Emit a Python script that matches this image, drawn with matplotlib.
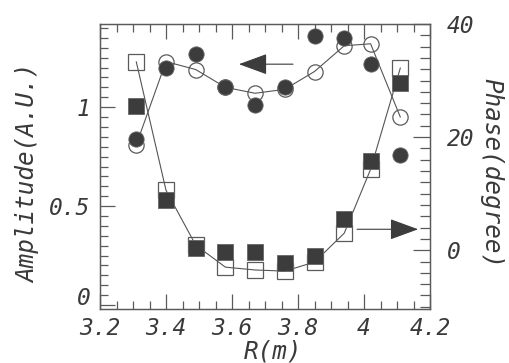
import matplotlib
matplotlib.use("Agg")
import matplotlib.pyplot as plt
from matplotlib.ticker import MultipleLocator, FuncFormatter

# ---- data ----
R = [3.31, 3.40, 3.49, 3.58, 3.67, 3.76, 3.85, 3.94, 4.02, 4.11]
amp_open = [0.81, 1.23, 1.19, 1.10, 1.07, 1.09, 1.18, 1.31, 1.32, 0.95]
amp_filled = [0.84, 1.20, 1.27, 1.10, 1.01, 1.10, 1.36, 1.35, 1.22, 0.76]
phase_open = [33.3, 10.6, 0.9, -3.0, -3.5, -3.7, -2.1, 3.0, 14.3, 32.2]
phase_filled = [25.5, 8.8, 0.4, -0.4, -0.4, -2.3, -1.1, 5.5, 15.8, 29.6]

x_ticks = [3.2, 3.4, 3.6, 3.8, 4.0, 4.2]
amp_ticks = [0, 0.5, 1]
phase_ticks = [0, 20, 40]

# ---- style ----
FAM = "DejaVu Sans Mono"
TXT = "#3a3a3a"
SP = "#5a5a5a"
FILL = "#3c3c3c"
LINE = "#555555"
W, H = 510, 363

fig = plt.figure(figsize=(5.10, 3.63), dpi=100)
ax = fig.add_axes([100 / W, 1 - 309 / H, 330 / W, 285 / H])
ax2 = ax.twinx()

ax.set_xlim(3.2, 4.2)
ax.set_ylim(-0.02, 1.42)
ax2.set_ylim(-10.4, 40)

# amplitude (circles, left axis)
ax.plot(R, amp_open, color=LINE, lw=0.8, marker="o", ms=11, mfc="none",
        mec=SP, mew=0.9, zorder=2)
ax.plot(R, amp_filled, ls="none", marker="o", ms=11, mfc=FILL, mec="#666666",
        mew=0.6, zorder=3)

# phase (squares, right axis)
ax2.plot(R, phase_open, color=LINE, lw=0.8, marker="s", ms=11.5, mfc="none",
         mec=SP, mew=0.9, zorder=2)
ax2.plot(R, phase_filled, ls="none", marker="s", ms=11.5, mfc=FILL,
         mec="#666666", mew=0.6, zorder=3)

# arrows
ax.annotate("", xy=(3.621, 1.217), xytext=(3.785, 1.217),
            arrowprops=dict(arrowstyle="-|>,head_length=0.9,head_width=0.33",
                            mutation_scale=20, lw=0.8, color=FILL,
                            shrinkA=0, shrinkB=0))
ax2.annotate("", xy=(4.164, 3.7), xytext=(3.979, 3.7),
             arrowprops=dict(arrowstyle="-|>,head_length=0.9,head_width=0.33",
                             mutation_scale=20, lw=0.8, color=FILL,
                             shrinkA=0, shrinkB=0))

fmt = FuncFormatter(lambda v, p: "%g" % v)

ax.set_xticks(x_ticks)
ax.xaxis.set_minor_locator(MultipleLocator(0.05))
ax.set_yticks(amp_ticks)
ax.yaxis.set_minor_locator(MultipleLocator(0.05))
ax.xaxis.set_major_formatter(fmt)
ax.yaxis.set_major_formatter(fmt)
ax2.set_yticks(phase_ticks)
ax2.yaxis.set_minor_locator(MultipleLocator(2))
ax2.yaxis.set_major_formatter(fmt)

ax.tick_params(which="both", direction="in", top=True, right=False,
               color=SP, width=0.9, labelcolor=TXT)
ax.tick_params(which="major", length=11)
ax.tick_params(which="minor", length=6)
ax.tick_params(axis="x", pad=6)
ax.tick_params(axis="y", pad=7)
ax2.tick_params(which="both", direction="in", color=SP, width=0.9,
                labelcolor=TXT)
ax2.tick_params(which="major", length=12, pad=12)
ax2.tick_params(which="minor", length=7)

for a in (ax, ax2):
    for s in a.spines.values():
        s.set_color(SP)
        s.set_linewidth(0.9)

for lab in ax.get_xticklabels() + ax.get_yticklabels() + ax2.get_yticklabels():
    lab.set_fontfamily(FAM)
    lab.set_fontstyle("italic")
    lab.set_fontsize(16.5)

# sit the "0" amplitude label on its tick so it clears the "3.2" label
ax.get_yticklabels()[0].set_verticalalignment("baseline")

lab_kw = dict(family=FAM, style="italic", fontsize=17.5, color=TXT,
              ha="center", va="center")
fig.text(273 / W, 1 - 352 / H, "R(m)", **lab_kw)
fig.text(28 / W, 1 - 173 / H, "Amplitude(A.U.)", rotation=90, **lab_kw)
fig.text(491 / W, 1 - 173 / H, "Phase(degree)", rotation=-90, **lab_kw)

fig.savefig("out.png", dpi=100)
